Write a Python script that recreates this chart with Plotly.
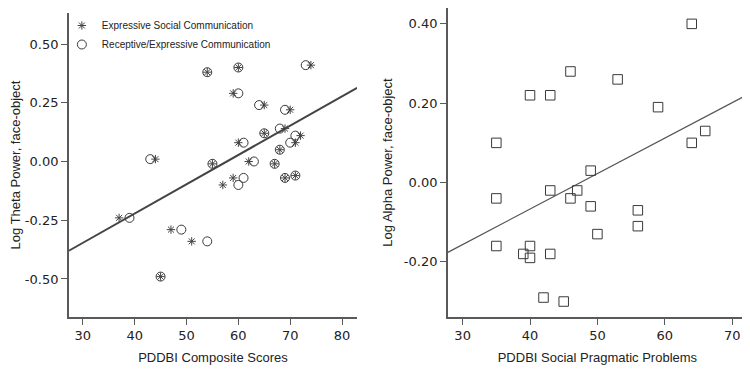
import numpy as np
import plotly.graph_objects as go

# Left panel: Log Theta Power vs PDDBI composite scores (one y per subject, two x scores)
theta_power = [0.38, 0.40, 0.41, 0.29, 0.24, 0.22, 0.12, 0.14, 0.11, 0.08, 0.08, 0.05,
               0.01, -0.01, 0.00, -0.01, -0.07, -0.06, -0.07, -0.10, -0.24, -0.29, -0.34, -0.49]
expressive_social = [54, 60, 74, 59, 65, 70, 65, 69, 72, 60, 71, 68,
                     44, 55, 62, 67, 69, 71, 59, 57, 37, 47, 51, 45]
receptive_expressive = [54, 60, 73, 60, 64, 69, 65, 68, 71, 61, 70, 68,
                        43, 55, 63, 67, 69, 71, 61, 60, 39, 49, 54, 45]

# Right panel: Log Alpha Power vs PDDBI Social Pragmatic Problems
social_pragmatic = [35, 35, 35, 39, 40, 40, 40, 42, 43, 43, 43, 45, 46, 46, 47,
                    49, 49, 50, 53, 56, 56, 59, 64, 64, 66]
alpha_power = [0.10, -0.04, -0.16, -0.18, -0.16, -0.19, 0.22, -0.29, 0.22, -0.02, -0.18,
               -0.30, 0.28, -0.04, -0.02, 0.03, -0.06, -0.13, 0.26, -0.07, -0.11, 0.19,
               0.40, 0.10, 0.13]

left_xticks = [30, 40, 50, 60, 70, 80]
left_yticks = [-0.50, -0.25, 0.00, 0.25, 0.50]
right_xticks = [30, 40, 50, 60, 70]
right_yticks = [-0.20, 0.00, 0.20, 0.40]

LX = [27.3, 82.9]
LY = [-0.662, 0.632]
RX = [27.8, 72.2]
RY = [-0.339, 0.44]

ink = "#3a3a3a"
axc = "#5a5a5a"

# page body has an 8px margin; size the figure so it fills the 750x370 window
W, H = 742, 362
OFF = 8


def px_x(p):
    return (p - OFF) / W


def px_y(p):
    return 1 - (p - OFF) / H


fig = go.Figure()

# Left fit line (pooled OLS)
xl = np.array(expressive_social + receptive_expressive, dtype=float)
yl = np.array(theta_power + theta_power, dtype=float)
b1, b0 = np.polyfit(xl, yl, 1)
lx = np.array(LX)
fig.add_trace(go.Scatter(x=lx, y=b0 + b1 * lx, mode="lines",
                         line=dict(color="#444444", width=2), showlegend=False,
                         xaxis="x", yaxis="y", hoverinfo="skip"))

fig.add_trace(go.Scatter(x=expressive_social, y=theta_power, mode="markers",
                         name="Expressive Social Communication",
                         marker=dict(symbol="asterisk-open", size=7, color="#444444",
                                     line=dict(color="#444444", width=1)),
                         xaxis="x", yaxis="y"))
fig.add_trace(go.Scatter(x=receptive_expressive, y=theta_power, mode="markers",
                         name="Receptive/Expressive Communication",
                         marker=dict(symbol="circle-open", size=9, color=ink,
                                     line=dict(color=ink, width=1)),
                         xaxis="x", yaxis="y"))

# Right fit line
a1, a0 = np.polyfit(np.array(social_pragmatic, float), np.array(alpha_power, float), 1)
rx = np.array(RX)
fig.add_trace(go.Scatter(x=rx, y=a0 + a1 * rx, mode="lines",
                         line=dict(color="#555555", width=1.2), showlegend=False,
                         xaxis="x2", yaxis="y2", hoverinfo="skip"))
fig.add_trace(go.Scatter(x=social_pragmatic, y=alpha_power, mode="markers",
                         showlegend=False,
                         marker=dict(symbol="square-open", size=9.5, color=ink,
                                     line=dict(color=ink, width=1)),
                         xaxis="x2", yaxis="y2"))

tickfont = dict(family="DejaVu Sans", size=13, color="#222222")
titlefont = dict(family="Liberation Sans, Arial", size=13, color="#222222")

common_ax = dict(showgrid=False, zeroline=False, showline=True, linecolor=axc, linewidth=1.5,
                 ticks="outside", ticklen=6, tickcolor=axc, tickwidth=1.3, tickfont=tickfont,
                 mirror=False)

fig.update_layout(
    width=W, height=H,
    margin=dict(l=0, r=0, t=0, b=0),
    paper_bgcolor="white", plot_bgcolor="white",
    xaxis=dict(domain=[px_x(67), px_x(356)], range=LX, anchor="y",
               tickvals=left_xticks, ticktext=[str(v) for v in left_xticks],
               title=dict(text="PDDBI Composite Scores", font=titlefont, standoff=11), **common_ax),
    yaxis=dict(domain=[px_y(317), px_y(13)], range=LY, anchor="x",
               tickvals=left_yticks, ticktext=[f"{v:.2f}" for v in left_yticks],
               title=dict(text="Log Theta Power, face-object", font=titlefont, standoff=8), **common_ax),
    xaxis2=dict(domain=[px_x(447), px_x(747)], range=RX, anchor="y2",
                tickvals=right_xticks, ticktext=[str(v) for v in right_xticks],
                title=dict(text="PDDBI Social Pragmatic Problems", font=titlefont, standoff=11), **common_ax),
    yaxis2=dict(domain=[px_y(317), px_y(8)], range=RY, anchor="x2",
                tickvals=right_yticks, ticktext=[f"{v:.2f}" for v in right_yticks],
                title=dict(text="Log Alpha Power, face-object", font=titlefont, standoff=8), **common_ax),
    legend=dict(x=px_x(60), y=px_y(11), xanchor="left", yanchor="top",
                bgcolor="rgba(0,0,0,0)", tracegroupgap=2, itemwidth=30,
                font=dict(family="Liberation Sans, Arial", size=10, color="#222222")),
)

fig.write_html("out.html")
